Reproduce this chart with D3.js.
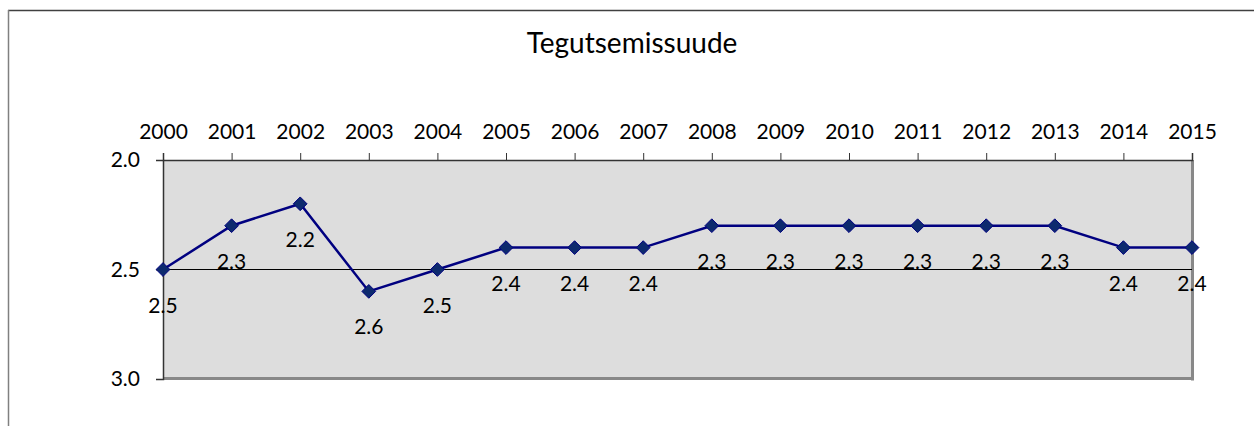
<!DOCTYPE html>
<html>
<head>
<meta charset="utf-8">
<script src="https://cdn.jsdelivr.net/npm/d3@7/dist/d3.min.js"></script>
<style>
  body { margin: 0; background: #fff; }
  svg { display: block; font-family: Lato, "Open Sans", sans-serif; }
</style>
</head>
<body>
<svg id="chart" width="1254" height="426"></svg>
<script>
// andmed
const aastad = ["2000", "2001", "2002", "2003", "2004", "2005", "2006", "2007",
                "2008", "2009", "2010", "2011", "2012", "2013", "2014", "2015"];
const vaartused = [2.5, 2.3, 2.2, 2.6, 2.5, 2.4, 2.4, 2.4, 2.3, 2.3, 2.3, 2.3, 2.3, 2.3, 2.4, 2.4];
const yTicks = [2.0, 2.5, 3.0];
const pealkiri = "Tegutsemissuude";

const svg = d3.select("#chart");
const margin = { left: 163, top: 160, right: 1192, bottom: 379 };

// välimine raam (ainult ülemine ja vasak serv on näha)
svg.append("line").attr("x1", 8).attr("y1", 10.5).attr("x2", 1254).attr("y2", 10.5)
  .attr("stroke", "#404040").attr("stroke-width", 1.5);
svg.append("line").attr("x1", 8.5).attr("y1", 10).attr("x2", 8.5).attr("y2", 426)
  .attr("stroke", "#808080").attr("stroke-width", 1.5);

const x = d3.scalePoint().domain(aastad).range([margin.left, margin.right]);
const y = d3.scaleLinear().domain([2.0, 3.0]).range([margin.top, margin.bottom]);

// joonise taust
svg.append("rect")
  .attr("x", margin.left).attr("y", margin.top)
  .attr("width", margin.right - margin.left).attr("height", margin.bottom - margin.top)
  .attr("fill", "#dddddd");

// parem ja alumine hall serv (vari)
svg.append("line").attr("x1", margin.right + 0.5).attr("y1", margin.top)
  .attr("x2", margin.right + 0.5).attr("y2", margin.bottom + 1.5)
  .attr("stroke", "#888").attr("stroke-width", 3);
svg.append("line").attr("x1", margin.left).attr("y1", margin.bottom - 0.5)
  .attr("x2", margin.right + 2).attr("y2", margin.bottom - 0.5)
  .attr("stroke", "#888").attr("stroke-width", 3);

// ruudujoon 2.5 juures
svg.append("line")
  .attr("x1", margin.left).attr("x2", margin.right)
  .attr("y1", y(2.5)).attr("y2", y(2.5))
  .attr("stroke", "#000").attr("stroke-width", 1);

// x-telg üleval
const xAxis = svg.append("g")
  .attr("transform", `translate(0,${margin.top})`)
  .call(d3.axisTop(x).tickSize(7).tickPadding(14));
xAxis.select(".domain").attr("stroke", "#333").attr("stroke-width", 1.5);
xAxis.selectAll(".tick line").attr("stroke", "#333");
xAxis.selectAll(".tick text").attr("font-size", 21).attr("fill", "#000")
  .attr("font-family", "Lato, sans-serif");

// y-telg vasakul
const yAxis = svg.append("g")
  .attr("transform", `translate(${margin.left},0)`)
  .call(d3.axisLeft(y).tickValues(yTicks).tickFormat(d3.format(".1f")).tickSize(7).tickPadding(16));
yAxis.select(".domain").attr("stroke", "#333").attr("stroke-width", 1.5);
yAxis.selectAll(".tick line").attr("stroke", "#333");
yAxis.selectAll(".tick text").attr("font-size", 21).attr("fill", "#000")
  .attr("font-family", "Lato, sans-serif");

// pealkiri
svg.append("text")
  .attr("x", 632).attr("y", 53)
  .attr("text-anchor", "middle")
  .attr("font-size", 28)
  .text(pealkiri);

// joon
const line = d3.line()
  .x((d, i) => x(aastad[i]))
  .y(d => y(d));

svg.append("path")
  .datum(vaartused)
  .attr("d", line)
  .attr("fill", "none")
  .attr("stroke", "#000080")
  .attr("stroke-width", 2.5);

// markerid (rombid)
svg.selectAll("path.marker")
  .data(vaartused)
  .enter()
  .append("path")
  .attr("class", "marker")
  .attr("d", d3.symbol().type(d3.symbolDiamond2).size(120))
  .attr("transform", (d, i) => `translate(${x(aastad[i])},${y(d)})`)
  .attr("fill", "#0d2a6e")
  .attr("stroke", "#000080")
  .attr("stroke-width", 1);

// andmesildid punktide all
svg.selectAll("text.silt")
  .data(vaartused)
  .enter()
  .append("text")
  .attr("class", "silt")
  .attr("x", (d, i) => x(aastad[i]))
  .attr("y", d => y(d) + 43)
  .attr("text-anchor", "middle")
  .attr("font-size", 21)
  .text(d => d3.format(".1f")(d));
</script>
</body>
</html>
